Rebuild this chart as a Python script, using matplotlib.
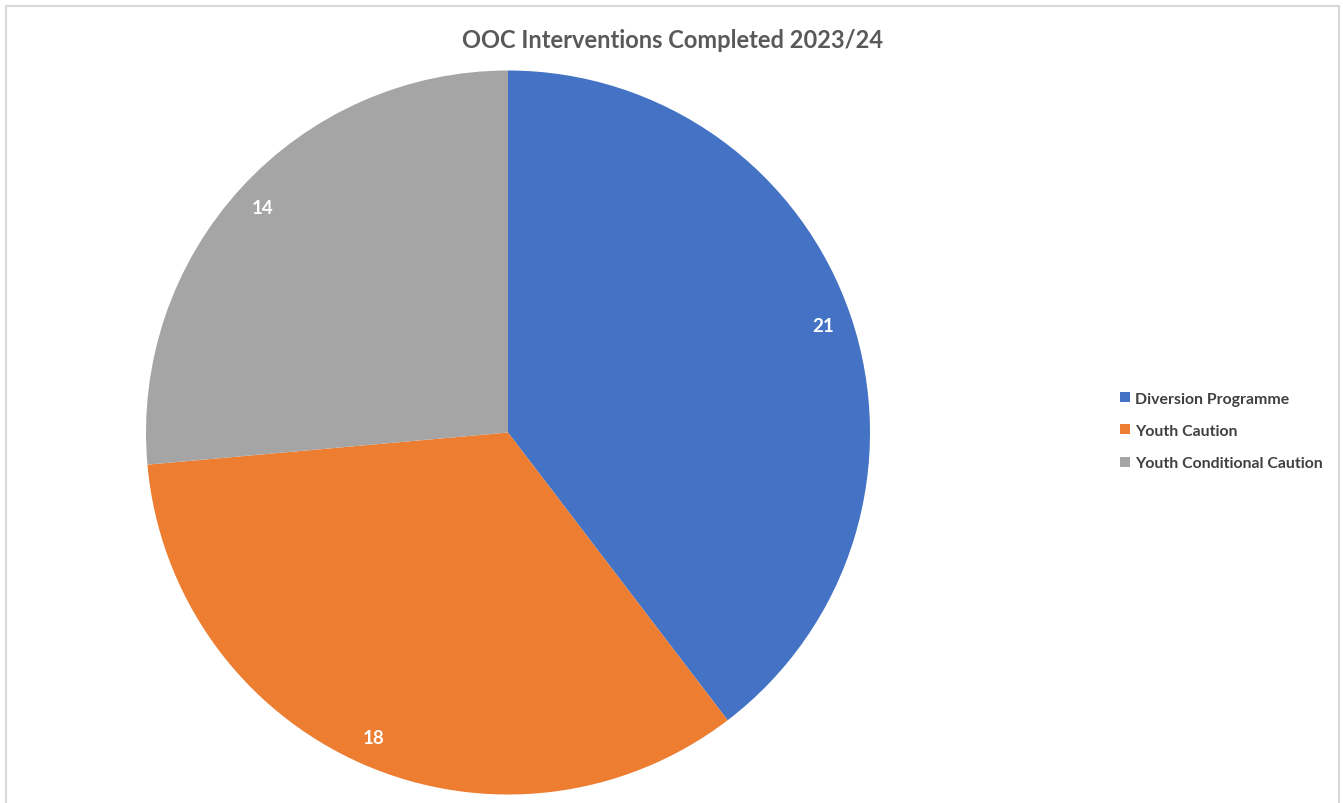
import matplotlib.pyplot as plt
from matplotlib.patches import Rectangle

categories = ['Diversion Programme', 'Youth Caution', 'Youth Conditional Caution']
values = [21, 18, 14]
colors = ['#4472C4', '#ED7D31', '#A5A5A5']
title = 'OOC Interventions Completed 2023/24'

W, H = 1343, 804
fig = plt.figure(figsize=(W / 100, H / 100), dpi=100)
plt.rcParams['font.family'] = ['Lato', 'DejaVu Sans']

# chart border (light gray frame, cut at bottom)
fig.add_artist(Rectangle((6 / W, -0.01), (1339 - 6) / W, 1 - 7 / H + 0.01,
                         transform=fig.transFigure, fill=False,
                         edgecolor='#D9D9D9', linewidth=1.5))

# pie axes: centre (508, 433.5), radius ~362 px
r = 362
cx, cy = 508, 433.5
ax = fig.add_axes([(cx - r) / W, (H - cy - r) / H, 2 * r / W, 2 * r / H])
wedges, texts, autotexts = ax.pie(
    values, colors=colors, startangle=90, counterclock=False,
    autopct=lambda p: f'{round(p * sum(values) / 100):.0f}',
    pctdistance=0.92, radius=1)
for t in autotexts:
    t.set_color('white')
    t.set_fontsize(13.5)
    t.set_fontweight('bold')
ax.set_xlim(-1, 1)
ax.set_ylim(-1, 1)
ax.set_aspect('equal')
ax.axis('off')

fig.text(673 / W, 1 - 40 / H, title, ha='center', va='center',
         fontsize=17, fontweight='bold', color='#595959')

leg = fig.legend(wedges, categories, loc='center left',
                 bbox_to_anchor=(1106 / W, 1 - 432 / H), frameon=False,
                 handlelength=0.6, handleheight=0.6, handletextpad=0.35,
                 labelspacing=1.15, fontsize=11.4)
for t in leg.get_texts():
    t.set_color('#404040')
    t.set_fontweight('bold')

plt.savefig('out.png', dpi=100)
plt.close()
